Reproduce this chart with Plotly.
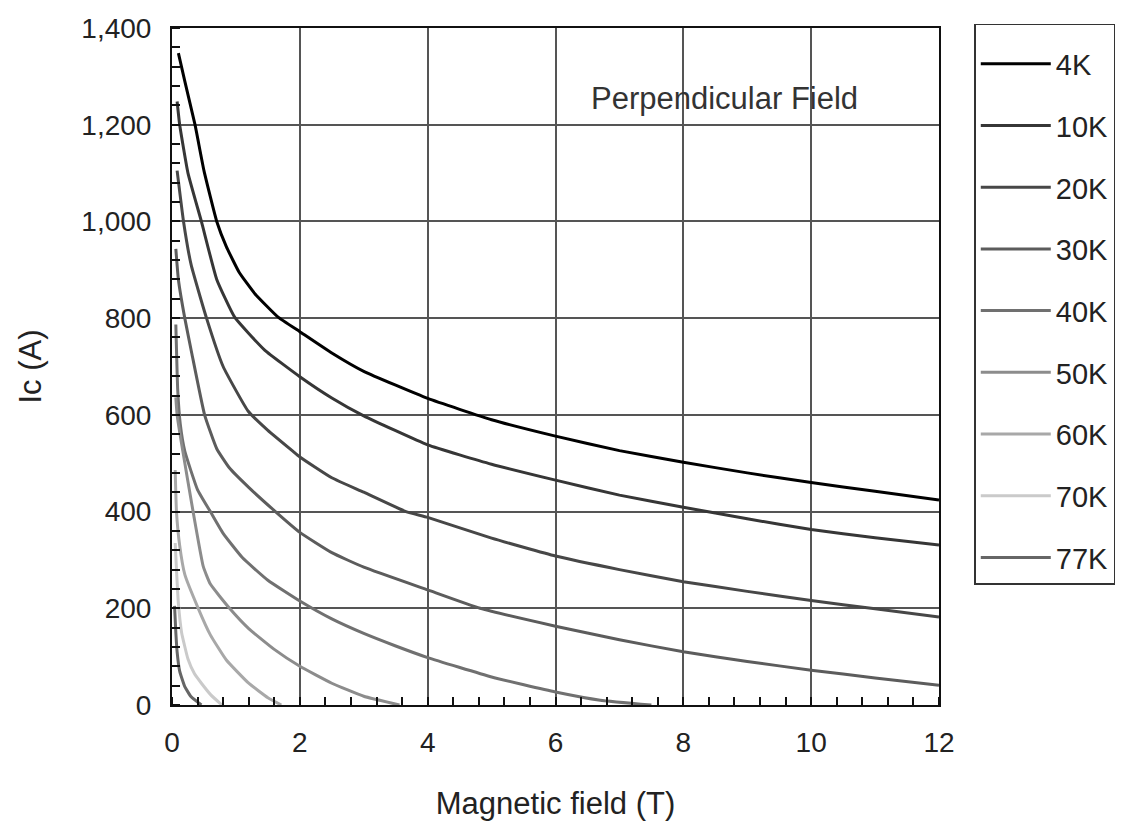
import plotly.graph_objects as go

# Data (Magnetic field in T, Ic in A)
labels = ["4K", "10K", "20K", "30K", "40K", "50K", "60K", "70K", "77K"]
colors = ["#000000", "#363636", "#474747", "#5c5c5c", "#707070", "#8c8c8c", "#a8a8a8", "#cacaca", "#666666"]

x_4K = [0.1, 0.2, 0.36, 0.5, 0.7, 0.85, 1.05, 1.3, 1.66, 2, 2.5, 3, 4, 5, 6, 7, 8, 9, 10, 11, 12]
y_4K = [1348, 1290, 1200, 1105, 1000, 948, 895, 850, 802, 772, 728, 690, 634, 590, 556, 526, 502, 480, 460, 442, 424]

x_10K = [0.08, 0.12, 0.25, 0.46, 0.7, 0.98, 1.45, 2, 2.5, 3, 4, 5, 6, 7, 8, 9, 10, 11, 12]
y_10K = [1248, 1200, 1100, 1000, 880, 802, 734, 679, 635, 598, 538, 498, 465, 434, 409, 385, 363, 346, 331]

x_20K = [0.08, 0.18, 0.3, 0.54, 0.8, 1.19, 1.5, 1.89, 2, 2.5, 3, 3.66, 4, 5, 6, 7, 8, 9, 10, 11, 12]
y_20K = [1105, 1000, 910, 800, 700, 608, 568, 525, 513, 470, 440, 400, 388, 345, 308, 280, 255, 235, 216, 199, 182]

x_30K = [0.06, 0.1, 0.2, 0.31, 0.51, 0.7, 0.9, 1.2, 1.6, 2, 2.5, 3, 4, 4.82, 6, 7, 8, 9, 10, 11, 12]
y_30K = [943, 880, 800, 727, 600, 530, 490, 450, 402, 357, 315, 285, 238, 200, 163, 135, 110, 90, 72, 56, 41]

x_40K = [0.06, 0.09, 0.13, 0.2, 0.4, 0.6, 0.8, 1.1, 1.5, 2, 2.5, 3, 3.5, 4, 5, 6, 6.7, 7.5]
y_40K = [787, 650, 580, 525, 445, 400, 355, 305, 258, 215, 178, 148, 122, 98, 58, 27, 10, 0]

x_50K = [0.06, 0.08, 0.15, 0.33, 0.49, 0.6, 0.9, 1.2, 1.6, 2, 2.5, 3, 3.56]
y_50K = [636, 600, 540, 400, 286, 250, 200, 158, 115, 80, 45, 18, 0]

x_60K = [0.05, 0.07, 0.12, 0.2, 0.41, 0.6, 0.85, 1.2, 1.5, 1.71]
y_60K = [486, 400, 330, 270, 200, 145, 93, 45, 15, 0]

x_70K = [0.05, 0.07, 0.1, 0.15, 0.25, 0.35, 0.46, 0.6, 0.78]
y_70K = [335, 280, 210, 150, 95, 65, 45, 22, 0]

x_77K = [0.04, 0.06, 0.08, 0.12, 0.2, 0.3, 0.46]
y_77K = [205, 150, 110, 70, 38, 17, 0]

xs = [x_4K, x_10K, x_20K, x_30K, x_40K, x_50K, x_60K, x_70K, x_77K]
ys = [y_4K, y_10K, y_20K, y_30K, y_40K, y_50K, y_60K, y_70K, y_77K]

x_ticks = [0, 2, 4, 6, 8, 10, 12]
y_ticks = [0, 200, 400, 600, 800, 1000, 1200, 1400]

FONT = "Liberation Sans, Arial, Helvetica, sans-serif"

fig = go.Figure()
for i, (lab, col) in enumerate(zip(labels, colors)):
    fig.add_trace(go.Scatter(
        x=xs[i], y=ys[i], mode="lines", name=lab,
        line=dict(color=col, width=3, shape="spline", smoothing=0.4),
        legendgroup=lab,
    ))

grid = "#555555"
fig.update_layout(
    width=1127, height=827,
    margin=dict(l=172, r=186, t=28, b=122),
    paper_bgcolor="white", plot_bgcolor="white",
    font=dict(family=FONT, size=28, color="#222222"),
    showlegend=True,
    legend=dict(
        x=1.046, xanchor="left", y=1.006, yanchor="top",
        bordercolor="#333333", borderwidth=1.5,
        font=dict(size=29, color="#222222"),
        title=dict(text=" ", font=dict(size=10)),
        tracegroupgap=21, traceorder="grouped",
        itemwidth=70, maxheight=700,
    ),
    xaxis=dict(
        range=[0, 12], tickvals=x_ticks, ticktext=[str(v) for v in x_ticks],
        tickfont=dict(size=28),
        showgrid=True, gridcolor=grid, gridwidth=2,
        showline=True, linecolor="#111111", linewidth=2, mirror=True,
        ticks="", zeroline=False,
        minor=dict(dtick=0.4, ticks="inside", ticklen=8, tickcolor="#111111", tickwidth=1.5, showgrid=False),
        title=dict(text="Magnetic field (T)", font=dict(size=31), standoff=36),
        ticklabelstandoff=11,
    ),
    yaxis=dict(
        range=[0, 1400], tickvals=y_ticks, tickformat=",",
        tickfont=dict(size=28),
        showgrid=True, gridcolor=grid, gridwidth=2,
        showline=True, linecolor="#111111", linewidth=2, mirror=True,
        ticks="", zeroline=False,
        minor=dict(dtick=40, ticks="inside", ticklen=8, tickcolor="#111111", tickwidth=1.5, showgrid=False),
        title=dict(text="Ic (A)", font=dict(size=31), standoff=30),
        ticklabelstandoff=13,
    ),
    annotations=[dict(
        x=0.72, y=0.8966, xref="paper", yref="paper", text="Perpendicular Field",
        xanchor="center", yanchor="middle",
        showarrow=False, font=dict(size=31, color="#333333"),
    )],
)

fig.write_html("out.html")
